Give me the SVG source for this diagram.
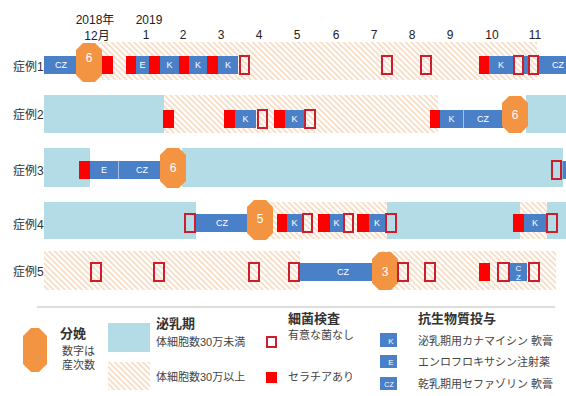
<svg xmlns="http://www.w3.org/2000/svg" width="566" height="396" viewBox="0 0 566 396">
<defs>
<pattern id="h" width="4" height="4" patternUnits="userSpaceOnUse" patternTransform="rotate(-45)">
<rect width="4" height="4" fill="#ffffff"/>
<line x1="1" y1="0" x2="1" y2="4" stroke="#F3CBA6" stroke-width="1.2"/>
</pattern>
<style>
.lb{fill:#B4DCE7}
.ht{fill:url(#h)}
.bl{fill:#4A80C8}
.rd{fill:#FF0000}
.ol{fill:none;stroke:#CC1E2C;stroke-width:2}
.oc{fill:#F39443}
.bt{font-family:"Liberation Sans",Arial,sans-serif;font-size:9px;fill:#ffffff;text-anchor:middle}
.ot{font-family:"Liberation Sans",Arial,sans-serif;font-size:12px;fill:#ffffff;text-anchor:middle}
.rl{font-family:"Liberation Sans","Noto Sans CJK JP",sans-serif;font-size:12px;fill:#333333}
.mt{font-family:"Liberation Sans","Noto Sans CJK JP",sans-serif;font-size:12px;fill:#222222;text-anchor:middle}
.lh{font-family:"Noto Sans CJK JP",sans-serif;font-size:13px;font-weight:bold;fill:#333333}
.ls{font-family:"Liberation Sans","Noto Sans CJK JP",sans-serif;font-size:11px;fill:#444444}
</style>
</defs>
<rect width="566" height="396" fill="#ffffff"/>

<g id="months">
<text class="mt" x="95" y="24">2018年</text>
<text class="mt" x="97" y="40">12月</text>
<text class="mt" x="149" y="24">2019</text>
<text class="mt" x="146" y="39">1</text>
<text class="mt" x="183" y="39">2</text>
<text class="mt" x="221" y="39">3</text>
<text class="mt" x="259" y="39">4</text>
<text class="mt" x="297" y="39">5</text>
<text class="mt" x="336" y="39">6</text>
<text class="mt" x="374" y="39">7</text>
<text class="mt" x="412" y="39">8</text>
<text class="mt" x="450" y="39">9</text>
<text class="mt" x="492" y="39">10</text>
<text class="mt" x="535" y="39">11</text>
</g>

<g id="case1">
<text class="rl" x="13" y="71">症例1</text>
<rect class="ht" x="100" y="42" width="437" height="38"/>
<rect class="bl" x="44" y="56" width="34" height="18"/>
<text class="bt" x="61" y="68">CZ</text>
<rect class="rd" x="102" y="56" width="11" height="18"/>
<rect class="rd" x="126" y="56" width="10" height="18"/>
<rect class="bl" x="136" y="56" width="13" height="18"/>
<text class="bt" x="142.5" y="68">E</text>
<rect class="rd" x="149" y="56" width="11" height="18"/>
<rect class="bl" x="160" y="56" width="19" height="18"/>
<text class="bt" x="169.5" y="68">K</text>
<rect class="rd" x="179" y="56" width="10" height="18"/>
<rect class="bl" x="189" y="56" width="18" height="18"/>
<text class="bt" x="198" y="68">K</text>
<rect class="rd" x="207" y="56" width="11" height="18"/>
<rect class="bl" x="218" y="56" width="20" height="18"/>
<text class="bt" x="228" y="68">K</text>
<rect class="ol" x="240" y="56" width="9" height="18"/>
<rect class="ol" x="382" y="56" width="10" height="18"/>
<rect class="ol" x="421" y="56" width="10" height="18"/>
<rect class="rd" x="479" y="56" width="10" height="18"/>
<rect class="bl" x="489" y="56" width="24" height="18"/>
<text class="bt" x="501" y="68">K</text>
<rect class="bl" x="523" y="56" width="6" height="18"/>
<rect class="ol" x="514" y="56" width="9" height="18"/>
<rect class="ol" x="529" y="56" width="9" height="18"/>
<rect class="bl" x="539" y="56" width="27" height="18"/>
<text class="bt" x="552" y="68" style="text-anchor:start">CZ</text>
<polygon class="oc" points="83,43 95,43 102,50 102,75 95,82 83,82 76,75 76,50"/>
<text class="ot" x="89" y="62">6</text>
</g>

<g id="case2">
<text class="rl" x="13" y="119">症例2</text>
<rect class="lb" x="44" y="95" width="120" height="38"/>
<rect class="ht" x="164" y="95" width="274" height="38"/>
<rect class="rd" x="163" y="110" width="11" height="18"/>
<rect class="rd" x="224" y="110" width="11" height="18"/>
<rect class="bl" x="235" y="110" width="21" height="18"/>
<text class="bt" x="245.5" y="122">K</text>
<rect class="ol" x="258" y="110" width="9" height="18"/>
<rect class="rd" x="274" y="110" width="11" height="18"/>
<rect class="bl" x="285" y="110" width="19" height="18"/>
<text class="bt" x="294.5" y="122">K</text>
<rect class="ol" x="305" y="110" width="10" height="18"/>
<rect class="rd" x="430" y="110" width="10" height="18"/>
<rect class="bl" x="440" y="110" width="23" height="18"/>
<text class="bt" x="451.5" y="122">K</text>
<rect class="bl" x="463.5" y="110" width="40" height="18"/>
<text class="bt" x="483" y="122">CZ</text>
<rect class="lb" x="526" y="95" width="40" height="38"/>
<polygon class="oc" points="509,96 521,96 528,103 528,126 521,133 509,133 502,126 502,103"/>
<text class="ot" x="515" y="119">6</text>
</g>

<g id="case3">
<text class="rl" x="13" y="175">症例3</text>
<rect class="lb" x="44" y="148" width="46" height="39"/>
<rect class="lb" x="182" y="148" width="381" height="39"/>
<rect class="rd" x="79" y="161" width="11" height="18"/>
<rect class="bl" x="90" y="161" width="28" height="18"/>
<text class="bt" x="104" y="173">E</text>
<rect class="bl" x="118.5" y="161" width="44" height="18"/>
<text class="bt" x="142" y="173">CZ</text>
<polygon class="oc" points="167,148 179,148 186,155 186,181 179,188 167,188 160,181 160,155"/>
<text class="ot" x="173" y="172">6</text>
<rect class="ol" x="552" y="161" width="9" height="18"/>
<rect class="bl" x="562.5" y="161" width="4" height="18"/>
</g>

<g id="case4">
<text class="rl" x="13" y="229">症例4</text>
<rect class="lb" x="44" y="202" width="152" height="37"/>
<rect class="ht" x="265" y="202" width="122" height="37"/>
<rect class="lb" x="387" y="202" width="133" height="37"/>
<rect class="ht" x="520" y="202" width="27" height="37"/>
<rect class="lb" x="547" y="202" width="19" height="37"/>
<rect class="bl" x="196" y="214" width="54" height="18"/>
<text class="bt" x="222" y="226">CZ</text>
<rect class="ol" x="185" y="214" width="10" height="18"/>
<polygon class="oc" points="254,200 266,200 273,207 273,233 266,240 254,240 247,233 247,207"/>
<text class="ot" x="260" y="223">5</text>
<rect class="rd" x="277" y="214" width="10" height="18"/>
<rect class="bl" x="287" y="214" width="15" height="18"/>
<text class="bt" x="294.5" y="226">K</text>
<rect class="ol" x="303" y="214" width="9" height="18"/>
<rect class="rd" x="318" y="214" width="12" height="18"/>
<rect class="bl" x="330" y="214" width="13" height="18"/>
<text class="bt" x="336.5" y="226">K</text>
<rect class="ol" x="344" y="214" width="9" height="18"/>
<rect class="rd" x="357" y="214" width="12" height="18"/>
<rect class="bl" x="369" y="214" width="16" height="18"/>
<text class="bt" x="377" y="226">K</text>
<rect class="ol" x="386" y="214" width="10" height="18"/>
<rect class="rd" x="513" y="214" width="11" height="18"/>
<rect class="bl" x="524" y="214" width="22" height="18"/>
<text class="bt" x="535" y="226">K</text>
<rect class="ol" x="547" y="214" width="10" height="18"/>
</g>

<g id="case5">
<text class="rl" x="13" y="276">症例5</text>
<rect class="ht" x="44" y="251" width="256" height="39"/>
<rect class="ht" x="380" y="251" width="176" height="39"/>
<rect class="ol" x="91" y="263" width="10" height="18"/>
<rect class="ol" x="154" y="263" width="10" height="18"/>
<rect class="ol" x="249" y="263" width="10" height="18"/>
<rect class="ol" x="289" y="263" width="10" height="18"/>
<rect class="bl" x="300" y="263" width="74" height="18"/>
<text class="bt" x="343" y="275">CZ</text>
<polygon class="oc" points="379,252 391,252 398,259 398,283 391,290 379,290 372,283 372,259"/>
<text class="ot" x="385" y="276">3</text>
<rect class="ol" x="398" y="263" width="10" height="18"/>
<rect class="ol" x="425" y="263" width="10" height="18"/>
<rect class="rd" x="479" y="263" width="11" height="18"/>
<rect class="ol" x="498" y="263" width="11" height="18"/>
<rect class="bl" x="510" y="263" width="17" height="18"/>
<text class="bt" x="518.5" y="271" style="font-size:8px">C</text>
<text class="bt" x="518.5" y="280" style="font-size:8px">Z</text>
<rect class="ol" x="529" y="263" width="10" height="18"/>
</g>

<g id="legend">
<line x1="37" y1="307" x2="555" y2="307" stroke="#BBBBBB" stroke-width="1"/>
<g id="legend-birth">
<polygon class="oc" points="31,328 39,328 47,336 47,364 39,372 31,372 23,364 23,336"/>
<text class="lh" x="60" y="338">分娩</text>
<text class="ls" x="62" y="355">数字は</text>
<text class="ls" x="62" y="369">産次数</text>
</g>
<g id="legend-lactation">
<rect class="lb" x="108" y="323" width="42" height="29"/>
<rect class="ht" x="108" y="362" width="42" height="28"/>
<text class="lh" x="156" y="328">泌乳期</text>
<text class="ls" x="156" y="346">体細胞数30万未満</text>
<text class="ls" x="156" y="381">体細胞数30万以上</text>
</g>
<g id="legend-bacteria">
<rect class="ol" x="267" y="337" width="9" height="10"/>
<rect class="rd" x="266" y="372" width="11" height="11"/>
<text class="lh" x="288" y="323">細菌検査</text>
<text class="ls" x="288" y="339">有意な菌なし</text>
<text class="ls" x="288" y="381">セラチアあり</text>
</g>
<g id="legend-antibiotics">
<text class="lh" x="418" y="323">抗生物質投与</text>
<rect class="bl" x="380" y="333" width="17" height="14"/>
<text class="bt" x="391" y="344" style="font-size:8px">K</text>
<text class="ls" x="418" y="345">泌乳期用カナマイシン 軟膏</text>
<rect class="bl" x="380" y="355" width="17" height="13"/>
<text class="bt" x="391" y="365" style="font-size:8px">E</text>
<text class="ls" x="418" y="366">エンロフロキサシン注射薬</text>
<rect class="bl" x="380" y="377" width="17" height="13"/>
<text class="bt" x="389" y="387" style="font-size:7px">CZ</text>
<text class="ls" x="418" y="388">乾乳期用セファゾリン 軟膏</text>
</g>
</g>
</svg>
